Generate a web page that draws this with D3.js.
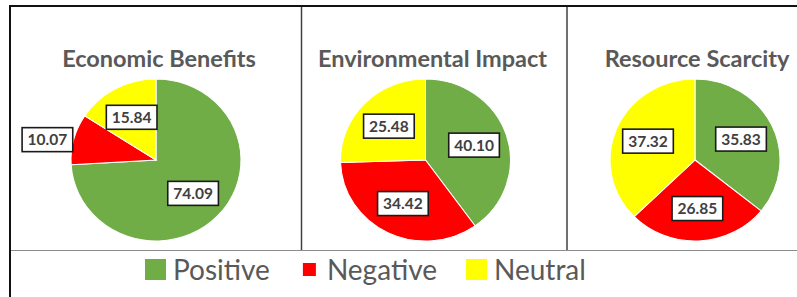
<!DOCTYPE html>
<html>
<head>
<meta charset="utf-8">
<script src="https://cdn.jsdelivr.net/npm/d3@7"></script>
<style>
  body { margin: 0; background: #fff; }
  svg { display: block; font-family: Lato, "Open Sans", sans-serif; }
</style>
</head>
<body>
<svg id="chart" width="797" height="297"></svg>
<script>
// data
var categories = ["Positive", "Negative", "Neutral"];
var titles = ["Economic Benefits", "Environmental Impact", "Resource Scarcity"];
var positive = [74.09, 40.10, 35.83];
var negative = [10.07, 34.42, 26.85];
var neutral  = [15.84, 25.48, 37.32];

var colors = d3.scaleOrdinal().domain(categories).range(["#70AD47", "#FF0000", "#FFFF00"]);

var svg = d3.select("#chart");

// frame
svg.append("line").attr("x1", 10).attr("x2", 797).attr("y1", 250.5).attr("y2", 250.5)
   .style("stroke", "#8c8c8c").style("stroke-width", 1.2);
[301.5, 567].forEach(function(x){
    svg.append("line").attr("x1", x).attr("x2", x).attr("y1", 6).attr("y2", 250)
       .style("stroke", "#404040").style("stroke-width", 1.5);
});
svg.append("rect").attr("x", 10).attr("y", 6).attr("width", 800).attr("height", 300)
   .attr("fill", "none").style("stroke", "#111").style("stroke-width", 2);

// panels
var pieCx = [156, 425.5, 695], pieCy = 160;
var titleX = [159, 432.5, 697];
var ry = 81, rx = 85;

var pie = d3.pie().sort(null).value(function(d){ return d.value; });
var arc = d3.arc().innerRadius(0).outerRadius(ry);

titles.forEach(function(t, i){
    var data = [
        {cat: categories[0], value: positive[i]},
        {cat: categories[1], value: negative[i]},
        {cat: categories[2], value: neutral[i]}
    ];
    var arcs = pie(data);

    svg.append("text")
       .attr("x", titleX[i]).attr("y", 67)
       .attr("text-anchor", "middle")
       .style("font-weight", "bold").style("font-size", "23.5px")
       .style("fill", "#595959")
       .text(t);

    var g = svg.append("g")
       .attr("transform", "translate(" + pieCx[i] + "," + pieCy + ") scale(" + (rx / ry) + ",1)");
    g.selectAll("path").data(arcs).enter().append("path")
       .attr("d", arc)
       .attr("fill", function(d){ return colors(d.data.cat); })
       .style("stroke", "#fff").style("stroke-width", 1);

    var lg = svg.append("g").attr("transform", "translate(" + pieCx[i] + "," + pieCy + ")");
    arcs.forEach(function(d){
        var mid = (d.startAngle + d.endAngle) / 2;
        var sx = Math.sin(mid), sy = -Math.cos(mid);
        var lab = lg.append("g");
        var txt = lab.append("text")
           .attr("text-anchor", "middle").attr("dy", "0.36em")
           .style("font-weight", "bold").style("font-size", "15.5px")
           .style("fill", "#404040")
           .text(d.data.value.toFixed(2));
        var w = txt.node().getComputedTextLength() + 11, h = 24;
        var x, y;
        if (d.data.value < 12) {
            x = sx * rx + sx * (w / 2 + 2);
            y = sy * ry + sy * (h / 2 + 2) + 4;
        } else {
            x = sx * rx * 0.6;
            y = sy * ry * 0.6;
        }
        lab.attr("transform", "translate(" + x + "," + y + ")");
        lab.insert("rect", "text")
           .attr("x", -w / 2).attr("y", -h / 2).attr("width", w).attr("height", h)
           .attr("fill", "#fff").style("stroke", "#1a1a1a").style("stroke-width", 1.6);
    });
});

// legend
var lx = 145, ly = 269.5;
var markerSize = [21, 13, 21];
categories.forEach(function(c, i){
    var s = markerSize[i];
    svg.append("rect")
       .attr("x", lx + 10.5 - s / 2).attr("y", ly - s / 2)
       .attr("width", s).attr("height", s)
       .attr("fill", colors(c));
    var t = svg.append("text")
       .attr("x", lx + 28).attr("y", ly).attr("dy", "0.36em")
       .style("font-size", "28px").style("fill", "#595959")
       .text(c);
    lx = lx + 28 + t.node().getComputedTextLength() + 29;
});
</script>
</body>
</html>
